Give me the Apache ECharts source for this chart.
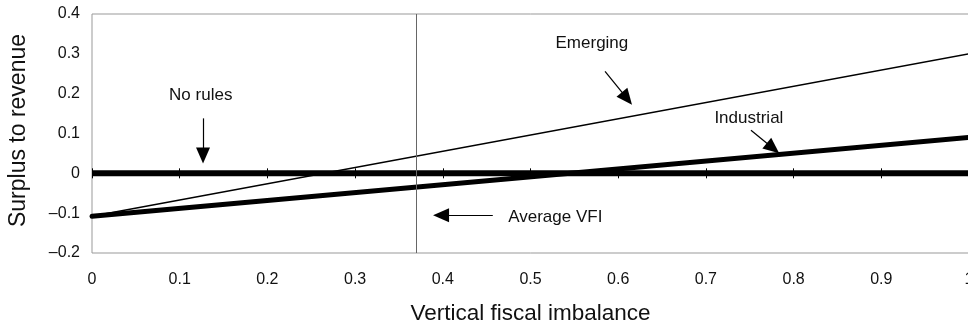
<!DOCTYPE html>
<html><head><meta charset="utf-8">
<script src="https://cdn.jsdelivr.net/npm/echarts@6/dist/echarts.min.js"></script>
<style>html,body{margin:0;padding:0;background:#fff}#c{width:968px;height:324px}</style>
</head><body><div id="c"></div>
<script>
// ---- data ----
const xValues = [0, 1];
const emerging = [-0.108, 0.300];
const industrial = [-0.108, 0.090];
const noRules = [0, 0];
const averageVFI = 0.367;
const xTickLabels = ['0','0.1','0.2','0.3','0.4','0.5','0.6','0.7','0.8','0.9','1'];
const yTickLabels = ['–0.2','–0.1','0','0.1','0.2','0.3','0.4'];
// annotation texts and arrows (in data coordinates)
const noteTexts = [
  {name: 'No rules', at: [0.124, 0.196], align: 'center'},
  {name: 'Emerging', at: [0.570, 0.327], align: 'center'},
  {name: 'Industrial', at: [0.749, 0.138], align: 'center'},
  {name: 'Average VFI', at: [0.474, -0.110], align: 'left'}
];
const noteArrows = [
  [[0.1266, 0.138], [0.1266, 0.045]],
  [[0.585, 0.256], [0.610, 0.188]],
  [[0.7514, 0.108], [0.7765, 0.063]],
  [[0.457, -0.1055], [0.398, -0.1055]]
];

const FONT = 'Liberation Sans';
const pairs = ys => xValues.map((x, i) => [x, ys[i]]);
const chart = echarts.init(document.getElementById('c'), null, {renderer: 'canvas'});

const tickAxis = (pos) => ({
  type: 'value', min: 0, max: 1, interval: 0.1, position: pos,
  axisLine: {show: false, onZero: true, onZeroAxisIndex: 0},
  axisTick: {show: true, length: 5, inside: false, lineStyle: {color: '#000', width: 1}},
  axisLabel: {show: false}, splitLine: {show: false}
});

chart.setOption({
  animation: false,
  backgroundColor: '#fff',
  grid: {left: 92, top: 14, right: -1, bottom: 71, outerBoundsMode: 'none', containLabel: false,
    show: true, borderColor: '#999', borderWidth: 1, backgroundColor: 'transparent'},
  xAxis: [{
    type: 'value', min: 0, max: 1, interval: 0.1, position: 'bottom',
    name: 'Vertical fiscal imbalance', nameLocation: 'middle', nameGap: 49,
    nameTextStyle: {fontFamily: FONT, fontSize: 22.5, color: '#111'},
    axisLine: {show: false, onZero: false},
    axisTick: {show: false},
    axisLabel: {margin: 19, fontFamily: FONT, fontSize: 16, color: '#111', hideOverlap: false,
      formatter: v => xTickLabels[Math.round(v * 10)]},
    splitLine: {show: false}
  }, tickAxis('top'), tickAxis('bottom')],
  yAxis: {
    type: 'value', min: -0.2, max: 0.4, interval: 0.1,
    name: 'Surplus to revenue', nameLocation: 'middle', nameGap: 62, nameRotate: 90,
    nameTextStyle: {fontFamily: FONT, fontSize: 23, color: '#111', padding: [0, 0, 0, 6]},
    axisLine: {show: false}, axisTick: {show: false},
    axisLabel: {margin: 12, fontFamily: FONT, fontSize: 16, color: '#111',
      formatter: v => yTickLabels[Math.round(v * 10) + 2]},
    splitLine: {show: false}
  },
  series: [
    {
      name: 'Average VFI', type: 'line', data: [], silent: true,
      markLine: {silent: true, symbol: ['none', 'none'], label: {show: false},
        lineStyle: {color: '#666', width: 1, type: 'solid'},
        data: [{xAxis: averageVFI}]}
    },
    {
      name: 'No rules', type: 'line', data: pairs(noRules), symbol: 'none', silent: true,
      lineStyle: {color: '#000', width: 6, cap: 'butt'}
    },
    {
      name: 'Emerging', type: 'line', data: pairs(emerging), symbol: 'none', silent: true,
      lineStyle: {color: '#000', width: 1.5}
    },
    {
      name: 'Industrial', type: 'line', data: pairs(industrial), symbol: 'none', silent: true,
      lineStyle: {color: '#000', width: 5, cap: 'round'}
    },
    {
      name: 'notes', type: 'line', data: [], silent: true,
      markLine: {silent: true, symbol: ['none', 'triangle'], symbolSize: [14, 16],
        label: {show: false}, lineStyle: {color: '#000', width: 1.2, type: 'solid'},
        data: noteArrows.map(a => [{coord: a[0]}, {coord: a[1]}])},
      markPoint: {silent: true, symbol: 'circle', symbolSize: 1,
        itemStyle: {color: 'rgba(0,0,0,0)'},
        data: noteTexts.map(t => ({name: t.name, coord: t.at,
          label: {show: true, formatter: t.name, position: t.align === 'left' ? 'right' : 'inside',
            distance: 0, fontFamily: FONT, fontSize: 17, color: '#111'}}))}
    }
  ]
});
</script></body></html>
